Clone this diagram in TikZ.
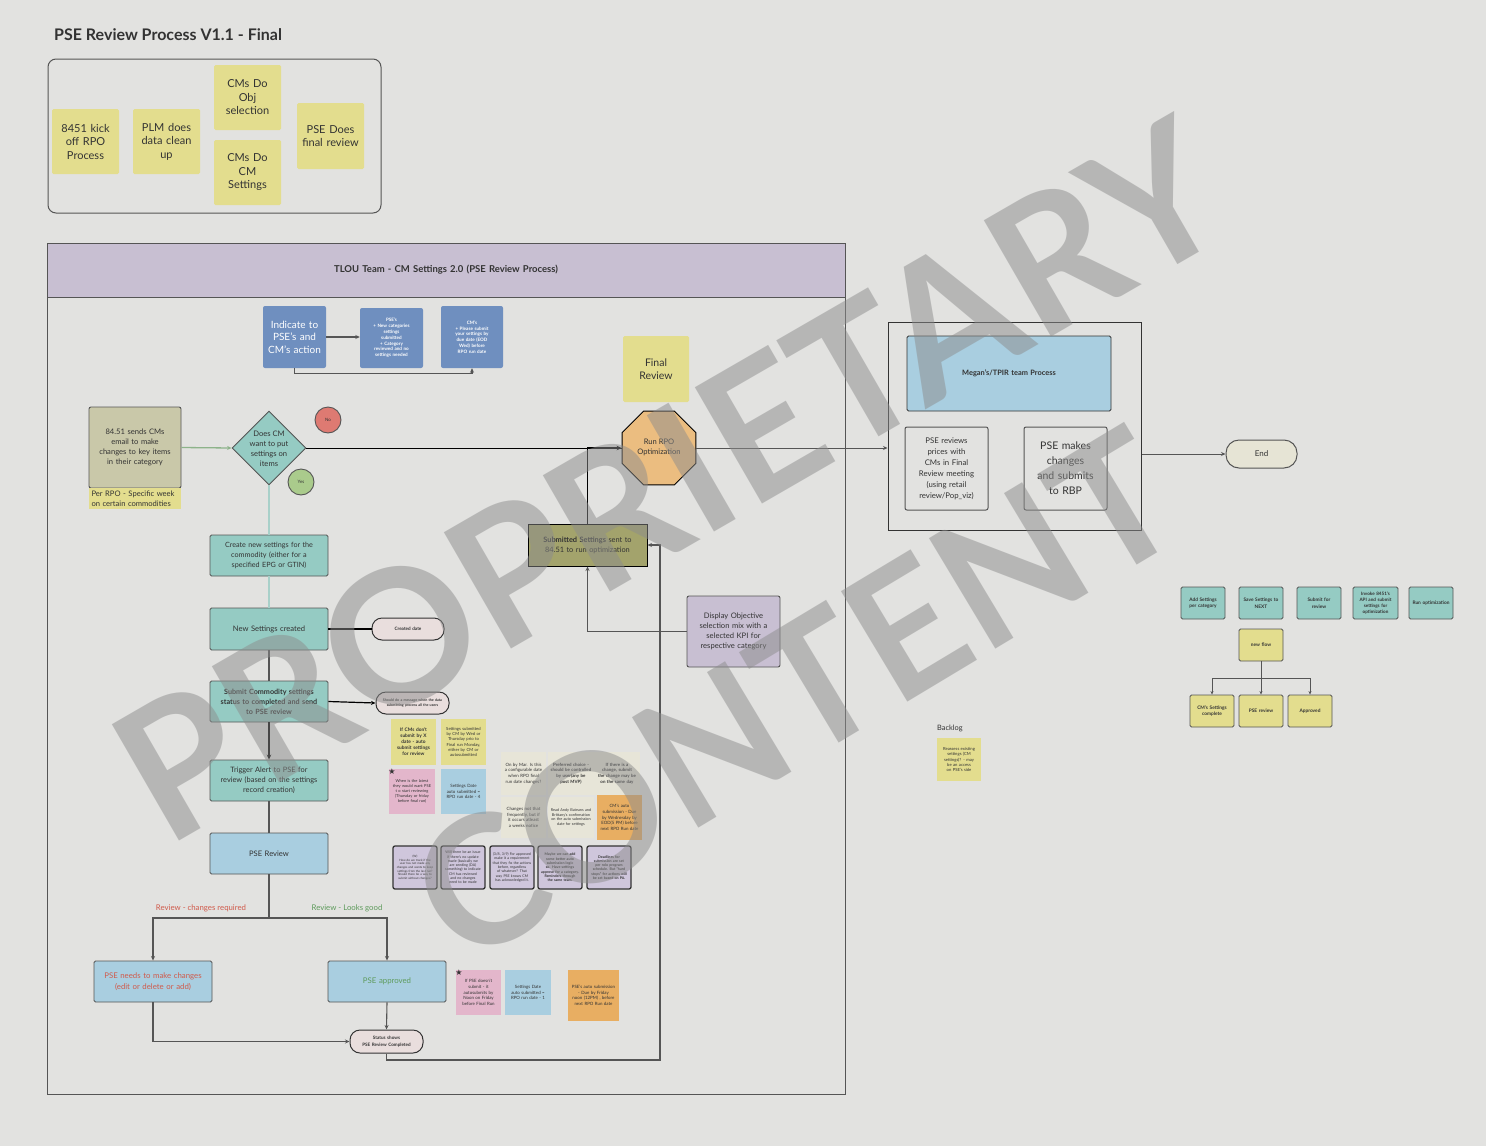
\documentclass[tikz,border=0pt]{standalone}
\usepackage{fontspec}
\setmainfont{Lato}
\newfontfamily\dejavu{DejaVu Sans}
\usetikzlibrary{shapes.geometric,shapes.misc,arrows.meta}
\hyphenpenalty=10000
\exhyphenpenalty=10000
\definecolor{bg}{HTML}{E2E2E0}
\definecolor{yel}{HTML}{E3DD8E}
\definecolor{blueh}{HTML}{6F8FBF}
\definecolor{tealc}{HTML}{95CBC3}
\definecolor{lblue}{HTML}{A9CEE0}
\definecolor{lav}{HTML}{C8BFD2}
\definecolor{lavb}{HTML}{CFC6DC}
\definecolor{khaki}{HTML}{C9C8A9}
\definecolor{pinkc}{HTML}{E3B6CB}
\definecolor{orngo}{HTML}{EBBD80}
\definecolor{orngn}{HTML}{E8AE62}
\definecolor{olive}{HTML}{A3A36C}
\definecolor{pale}{HTML}{E7E5D8}
\definecolor{redc}{HTML}{DE7A72}
\definecolor{greenc}{HTML}{AACB8C}
\definecolor{redtext}{HTML}{D05A4B}
\definecolor{greentext}{HTML}{5E9B5C}
\definecolor{frameg}{HTML}{555555}
\definecolor{txt}{HTML}{333333}
\definecolor{pillc}{HTML}{E9DEDD}
\definecolor{endc}{HTML}{E6E4D5}
\definecolor{gline}{HTML}{8DB38A}
\definecolor{tline}{HTML}{A8D0C9}
\newcommand\fsz[2]{\fontsize{#1}{#2}\selectfont}
\newcommand\mybox[7]{%
 \pgfmathsetmacro\mbw{#4-#2}%
 \pgfmathsetmacro\mbh{#5-#3}%
 \pgfmathsetmacro\mbx{(#2+#4)/2}%
 \pgfmathsetmacro\mby{(#3+#5)/2}%
 \pgfmathsetmacro\mbt{#4-#2-5}%
 \node[inner sep=0pt, align=center, text=txt, text width=\mbt pt, minimum width=\mbw pt, minimum height=\mbh pt, #6] (#1) at (\mbx,\mby) {#7};}
\tikzset{
 conn/.style={draw=frameg, line width=1.1pt, -{Stealth[length=4.5pt,width=4pt]}},
 plainline/.style={draw=frameg, line width=1.1pt},
 sticky/.style={fill=yel, rounded corners=1.5pt},
 myframe/.style={draw=frameg, line width=1pt},
 tealbox/.style={fill=tealc, draw=frameg, line width=0.9pt, rounded corners=1.5pt},
 lbbox/.style={fill=lblue, draw=frameg, line width=0.9pt, rounded corners=1.5pt},
 bluebox/.style={fill=blueh, rounded corners=2pt, text=white},
 purplenote/.style={fill=lavb, draw=txt, line width=1.3pt, rounded corners=2pt, font=\fsz{3.6}{4.3}},
 pill/.style={fill=pillc, draw=txt, line width=1pt, rounded corners=10pt},
 tiny/.style={font=\fsz{4.4}{5.4}},
}
\begin{document}
\begin{tikzpicture}[x=1pt,y=-1pt]
\fill[bg] (0,0) rectangle (1486,1146);
\useasboundingbox (0,0) rectangle (1486,1146);

% title and legend
\node[anchor=west, inner sep=0pt, text=txt, font=\bfseries\fsz{16}{18}] (title) at (54,35) {PSE Review Process V1.1 - Final};
\mybox{legend}{48}{59}{381}{213}{myframe, rounded corners=8pt}{}
\mybox{s1}{52}{109}{119}{174}{sticky, font=\fsz{11}{13.5}}{8451 kick\\off RPO\\Process}
\mybox{s2}{133}{109}{200}{174}{sticky, font=\fsz{11}{13.5}}{PLM does\\data clean\\up}
\mybox{s3}{214}{65}{281}{130}{sticky, font=\fsz{11}{13.5}}{CMs Do\\Obj\\selection}
\mybox{s4}{214}{140}{281}{205}{sticky, font=\fsz{11}{13.5}}{CMs Do\\CM\\Settings}
\mybox{s5}{297}{103}{364}{169}{sticky, font=\fsz{11}{13.5}}{PSE Does\\final review}

% swimlane
\mybox{lane}{47}{243}{845}{1094}{draw=frameg, line width=0.9pt}{}
\mybox{lanehead}{47}{243}{845}{297}{fill=lav, draw=frameg, line width=0.9pt, font=\bfseries\fsz{9.5}{11}}{TLOU Team - CM Settings 2.0 (PSE Review Process)}

% blue header boxes
\mybox{ind}{263}{306}{326}{368}{bluebox, font=\fsz{10}{12.5}}{Indicate to\\PSE's and\\CM's action}
\mybox{psebox}{360}{308}{423}{368}{bluebox, font=\bfseries\fsz{4.6}{5.8}}{PSE's\\+ New categories\\settings\\submitted\\+ Category\\reviewed and no\\settings needed}
\mybox{cmbox}{441}{306}{503}{368}{bluebox, font=\bfseries\fsz{4.6}{5.8}}{CM's\\+ Please submit\\your settings by\\due date (EOD\\Wed) before\\RPO run date}
\draw[conn] (ind.east) -- (psebox.west |- ind.east);
\draw[conn] (ind.south) -- ++(0,5) -| (cmbox.south);

% start, decision
\mybox{email}{89}{407}{181}{488}{fill=khaki, draw=frameg, line width=0.9pt, rounded corners=2pt, font=\fsz{7.6}{10}}{84.51 sends CMs\\email to make\\changes to key items\\in their category}
\mybox{perrpo}{89}{488}{181}{509}{fill=yel, align=left, font=\fsz{7.6}{9.5}}{Per RPO - Specific week\\on certain commodities}
\node[diamond, aspect=1, draw=frameg, line width=0.9pt, fill=tealc, minimum width=74pt, minimum height=74pt, inner sep=0pt] (dec) at (269,448) {};
\node[align=center, text=txt, font=\fsz{7.6}{10}, inner sep=0pt] (dectext) at (269,449) {Does CM\\want to put\\settings on\\items};
\node[circle, draw=frameg, line width=0.9pt, fill=redc, minimum size=26pt, inner sep=0pt, font=\fsz{4.5}{5}, text=txt] (no) at (328,420) {No};
\node[circle, draw=frameg, line width=0.9pt, fill=greenc, minimum size=26pt, inner sep=0pt, font=\fsz{4.5}{5}, text=txt] (yes) at (301,482) {Yes};
\draw[draw=gline, line width=1.3pt, -{Stealth[length=4.5pt,width=4pt]}] (email.east) -- (dec.west);

% left column
\mybox{create}{210}{535}{328}{576}{tealbox, font=\fsz{7.2}{10}}{Create new settings for the\\commodity (either for a\\specified EPG or GTIN)}
\mybox{newset}{210}{608}{328}{650}{tealbox, font=\fsz{7.6}{10}}{New Settings created}
\mybox{submit}{210}{681}{328}{722}{tealbox, font=\bfseries\fsz{7.2}{10}}{Submit Commodity settings\\status to completed and send\\to PSE review}
\mybox{trigger}{210}{760}{328}{801}{tealbox, font=\fsz{7.4}{10}}{Trigger Alert to PSE for\\review (based on the settings\\record creation)}
\mybox{psereview}{210}{833}{328}{874}{lbbox, font=\fsz{7.6}{10}}{PSE Review}
\draw[draw=tline, line width=1.3pt] (dec.south) -- (create.north);
\draw[draw=tline, line width=1.3pt] (create.south) -- (newset.north);
\mybox{created}{372}{618}{444}{640}{pill, font=\bfseries\fsz{4.6}{5.5}}{Created date}
\draw[draw=black, line width=1.5pt] (newset.east) -- (created.west);
\draw[plainline] (newset.south) -- (submit.north);
\mybox{msg}{376}{692}{449}{714}{pill, font=\bfseries\fsz{3.6}{4.4}}{Should do a message when the data\\submitting process all the users}
\draw[draw=black, line width=1.2pt, -{Stealth[length=4.5pt,width=4pt]}] (submit.east) -- (msg.west);
\draw[draw=black, line width=1.8pt, -{Stealth[length=5pt,width=4.5pt]}] (submit.south) -- (trigger.north);
\draw[plainline] (trigger.south) -- (psereview.north);

% review split
\coordinate (split) at (269,918);
\mybox{needs}{94}{961}{212}{1002}{lbbox, text=redtext, font=\fsz{7.8}{10.5}}{PSE needs to make changes\\(edit or delete or add)}
\mybox{approved}{328}{961}{446}{1002}{lbbox, text=greentext, font=\fsz{7.8}{10.5}}{PSE approved}
\node[text=redtext, font=\fsz{7.8}{9}, inner sep=0pt] (lblchg) at (201,908) {Review - changes required};
\node[text=greentext, font=\fsz{7.8}{9}, inner sep=0pt] (lblok) at (347,908) {Review - Looks good};
\draw[plainline] (psereview.south) -- (split);
\draw[conn] (split) -| (needs.north);
\draw[conn] (split) -| (approved.north);
\mybox{status}{350}{1030}{423}{1053}{pill, font=\bfseries\fsz{4.6}{6.5}}{Status shows\\PSE Review Completed}
\draw[conn] (needs.south) |- (status.west);
\draw[conn] (approved.south) -- (status.north);

% run RPO area
\mybox{final}{623}{336}{689}{402}{sticky, font=\fsz{10.5}{13.5}}{Final\\Review}
\node[regular polygon, regular polygon sides=8, minimum size=80pt, inner sep=0pt, draw=black, line width=1pt, fill=orngo] (rpo) at (659,448) {};
\node[align=center, text=txt, font=\fsz{7.6}{10}, inner sep=0pt] (rpotext) at (659,447) {Run RPO\\Optimization};
\mybox{submitted}{528}{524}{647}{566}{fill=olive, draw=black, line width=1pt, font=\fsz{7.4}{10}}{\textbf{Submitted Settings} sent to\\84.51 to run optimization}
\mybox{display}{687}{596}{780}{667}{fill=lav, draw=frameg, line width=0.9pt, rounded corners=2pt, font=\fsz{7.6}{10}}{Display Objective\\selection mix with a\\selected KPI for\\respective category}
\coordinate (c1) at (660,1060);
\draw[conn] (status.south) |- (c1) |- (submitted.east);
\draw[conn] (display.west) -| (submitted.south);
\draw[draw=black, line width=1.8pt, -{Stealth[length=5pt,width=4.5pt]}] (submitted.north) |- (rpo.west);
\draw[draw=black, line width=0.9pt] (dec.east) -- (rpo.west);

% right process
\mybox{outer}{888}{322}{1141}{530}{draw=black!80, line width=1pt}{}
\mybox{megan}{907}{336}{1111}{411}{lbbox, draw=black!80, font=\bfseries\fsz{7.4}{9}}{Megan's/TPIR team Process}
\mybox{psemeet}{905}{427}{988}{510}{draw=frameg, line width=1pt, rounded corners=2pt, font=\fsz{7.8}{11}}{PSE reviews\\prices with\\CMs in Final\\Review meeting\\(using retail\\review/Pop\_viz)}
\mybox{psemake}{1024}{427}{1107}{510}{draw=frameg, line width=1pt, rounded corners=2pt, font=\fsz{10.5}{15}}{PSE makes\\changes\\and submits\\to RBP}
\mybox{endn}{1226}{440}{1297}{468}{fill=endc, draw=frameg, line width=1pt, rounded corners=13pt, font=\fsz{8}{9}}{End}
\draw[conn, line width=0.9pt] (rpo.east) -- (rpo.east -| outer.west);
\draw[conn, line width=0.9pt] (outer.east |- endn.west) -- (endn.west);

% new flow boxes
\mybox{r1}{1181}{587}{1225}{619}{tealbox, font=\bfseries\fsz{4.8}{6.5}}{Add Settings\\per category}
\mybox{r2}{1239}{587}{1283}{619}{tealbox, font=\bfseries\fsz{4.8}{6.5}}{Save Settings to\\NEXT}
\mybox{r3}{1297}{587}{1341}{619}{tealbox, font=\bfseries\fsz{4.8}{6.5}}{Submit for\\review}
\mybox{r4}{1353}{587}{1398}{619}{tealbox, font=\bfseries\fsz{4.6}{6}}{Invoke 8451's\\API and submit\\settings for\\optimization}
\mybox{r5}{1409}{587}{1453}{619}{tealbox, font=\bfseries\fsz{4.8}{6.5}}{Run optimization}
\mybox{newflow}{1239}{629}{1283}{661}{sticky, draw=frameg, line width=0.9pt, font=\bfseries\fsz{4.8}{6.5}}{new flow}
\mybox{cmsdone}{1190}{695}{1234}{727}{sticky, draw=frameg, line width=0.9pt, font=\bfseries\fsz{4.8}{6.5}}{CM's Settings\\complete}
\mybox{psrev}{1239}{695}{1283}{727}{sticky, draw=frameg, line width=0.9pt, font=\bfseries\fsz{4.8}{6.5}}{PSE review}
\mybox{appr}{1288}{695}{1332}{727}{sticky, draw=frameg, line width=0.9pt, font=\bfseries\fsz{4.8}{6.5}}{Approved}
\draw[conn, line width=0.9pt, -{Stealth[length=3.5pt,width=3pt]}] (newflow.south) -- (psrev.north);
\draw[conn, line width=0.9pt, -{Stealth[length=3.5pt,width=3pt]}] (newflow.south) -- ++(0,17) -| (cmsdone.north);
\draw[conn, line width=0.9pt, -{Stealth[length=3.5pt,width=3pt]}] (newflow.south) -- ++(0,17) -| (appr.north);

% backlog
\node[anchor=west, inner sep=0pt, text=txt, font=\fsz{7.4}{9}] (backlog) at (937,728) {Backlog};
\mybox{bl}{937}{738}{981}{781}{fill=yel, font=\fsz{4.2}{5.2}}{Reassess existing settings (CM settings)? - may be an access on PSE's side}

% sticky notes (middle)
\mybox{n1}{391}{719}{436}{765}{fill=yel, font=\bfseries\fsz{4.8}{6}}{If CMs don't submit by X date - auto submit settings for review}
\mybox{n2}{441}{719}{486}{765}{fill=yel, font=\fsz{4.2}{5.2}}{Settings submitted by CM by Wed or Thursday prio to Final run Monday, either by CM or autosubmitted}
\mybox{n3}{389}{769}{435}{814}{fill=pinkc, font=\fsz{4}{5}}{When is the latest they would want PSE t o start reviewing (Thursday or friday before final run)}
\node[font=\dejavu\fsz{8}{8}, text=txt, inner sep=0pt] (star1) at (392,772) {★};
\mybox{n4}{441}{769}{486}{814}{fill=lblue, font=\fsz{4.4}{5.4}}{Settings Date auto submitted = RPO run date - 4}
\mybox{q1}{501}{752}{546}{795}{fill=pale, font=\fsz{4.4}{5.6}}{On by Mar. Is this a configurable date when RPO final run date changes?}
\mybox{q2}{548}{752}{594}{795}{fill=pale, font=\bfseries\fsz{4.4}{5.6}}{Preferred choice - should be controlled by user(any be post MVP)}
\mybox{q3}{594}{752}{640}{795}{fill=pale, font=\bfseries\fsz{4.4}{5.6}}{If there is a change, submit the change may be on the same day}
\mybox{q4}{501}{797}{546}{838}{fill=pale, font=\fsz{4.4}{5.6}}{Changes not that frequently, but if it occurs atleast a weeks notice}
\mybox{q5}{548}{797}{594}{838}{fill=pale, font=\fsz{3.8}{4.8}}{Read Andy Bateans and Brittany's confirmation on the auto submission date for settings}
\mybox{q6}{597}{795}{642}{840}{fill=orngn, font=\fsz{4.4}{5.6}}{CM's auto submission - Due by Wednesday by EOD(5 PM) before next RPO Run date}

% purple notes
\mybox{p1}{393}{846}{437}{889}{purplenote, font=\fsz{3}{3.6}}{(W)\\How do we track if the user has not made any changes and wants to keep settings from the last run? Should there be a way to submit without changes?}
\mybox{p2}{441}{846}{485}{889}{purplenote}{Will there be an issue if there's no update made (basically we are sending (DA) something) to indicate CM has reviewed and no changes need to be made}
\mybox{p3}{490}{846}{534}{889}{purplenote}{(3/8, 3/9) For approved make it a requirement that they fix the actions before, regardless of whatever? That way PSE knows CM has acknowledged it.}
\mybox{p4}{538}{846}{582}{889}{purplenote, font=\bfseries\fsz{3.6}{4.3}}{Maybe we can add some better auto submission logic so. Have settings approve for a category. Reminders through the same team.}
\mybox{p5}{587}{846}{631}{889}{purplenote, font=\bfseries\fsz{3.6}{4.3}}{Deadlines for submission are set per rolo program schedule. But "hard stops" for actions will be set based on PA.}

% bottom notes
\mybox{b1}{456}{970}{501}{1015}{fill=pinkc, font=\fsz{4.4}{5.6}}{If PSE doesn't submit - it autosubmits by Noon on Friday before Final Run}
\node[font=\dejavu\fsz{8}{8}, text=txt, inner sep=0pt] (star2) at (459,973) {★};
\mybox{b2}{505}{970}{551}{1015}{fill=lblue, font=\fsz{4.4}{5.6}}{Settings Date auto submitted = RPO run date - 1}
\mybox{b3}{568}{970}{619}{1021}{fill=orngn, font=\fsz{4.4}{5.6}}{PSE's auto submission - Due by Friday noon (12PM) , before next RPO Run date}

% watermark
\node[rotate=30, text=black!45, opacity=0.5, inner sep=0pt] (wm1) at (670,480) {\resizebox{1240pt}{!}{\bfseries PROPRIETARY}};
\node[rotate=31, text=black!45, opacity=0.5, inner sep=0pt] (wm2) at (795,695) {\resizebox{850pt}{!}{\bfseries CONTENT}};
\end{tikzpicture}
\end{document}
